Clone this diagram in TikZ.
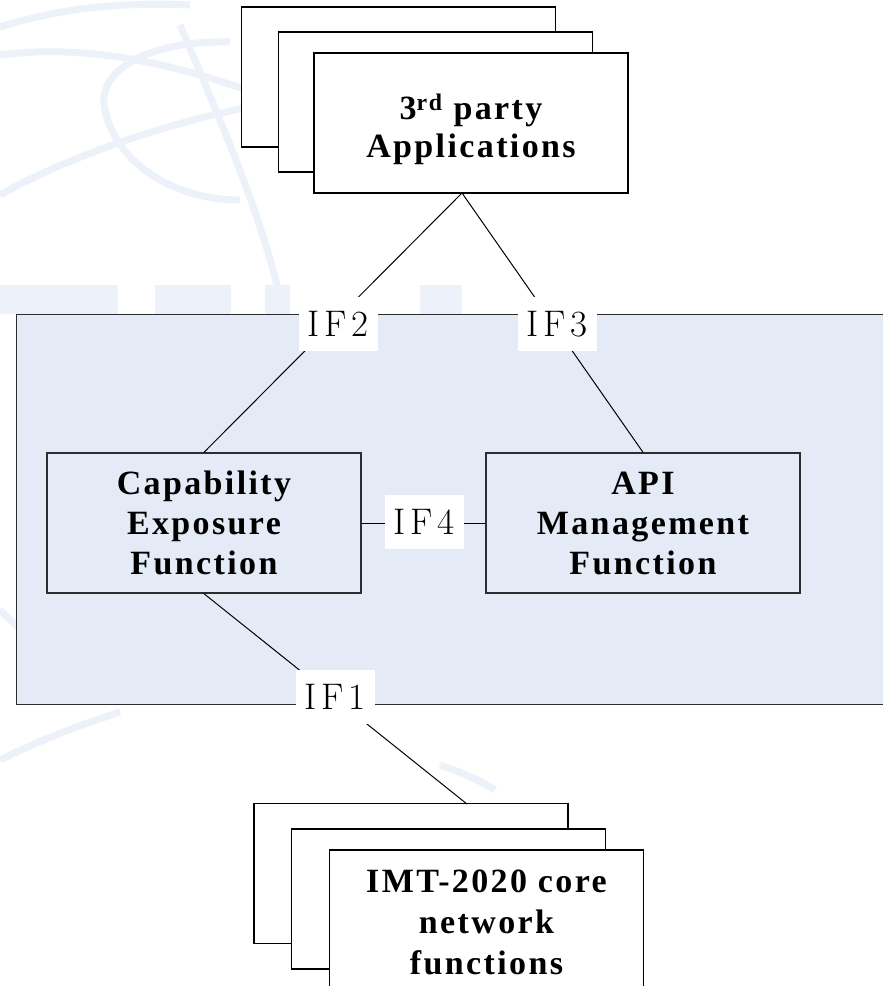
\documentclass[tikz,border=0pt]{standalone}
\usepackage{fontspec}
\usepackage{graphicx}
\newfontfamily\bxfont{Liberation Serif}[LetterSpace=7]
\newfontfamily\iffont{Latin Modern Roman}[LetterSpace=12]
\definecolor{panel}{RGB}{229,235,246}
\definecolor{edge}{RGB}{45,45,45}
\definecolor{wm}{RGB}{237,241,249}
\begin{document}
\begin{tikzpicture}[x=1pt,y=-1pt,
  stackbox/.style={draw=black, fill=white, line width=1.2pt, minimum width=314pt, minimum height=140pt, inner sep=0pt},
  boxtext/.style={align=center, inner sep=0pt, font=\bxfont\bfseries\fontsize{34}{38}\selectfont},
  funcbox/.style={draw=edge, line width=1.4pt, minimum width=314pt, minimum height=140pt, inner sep=0pt, align=center, font=\bxfont\bfseries\fontsize{34}{40}\selectfont},
  iflabel/.style={fill=white, minimum width=79pt, minimum height=54pt, inner sep=0pt, font=\iffont\fontsize{37}{37}\selectfont},
  link/.style={draw=black, line width=1pt},
  wmark/.style={draw=wm, line width=7pt}]
\useasboundingbox (0,0) rectangle (883,986);
\clip (0,0) rectangle (883,986);
\fill[white] (0,0) rectangle (883,986);
% faint watermark
\draw[wmark] (0,27) .. controls (60,8) and (120,2) .. (190,5);
\draw[wmark] (0,55) .. controls (100,42) and (200,70) .. (300,110);
\draw[wmark] (0,195) .. controls (80,150) and (200,112) .. (300,98);
\draw[wmark] (180,25) .. controls (220,120) and (265,220) .. (285,320);
\draw[wmark] (230,42) .. controls (150,40) and (95,70) .. (105,110) .. controls (115,160) and (170,200) .. (240,200);
\draw[wmark] (0,610) .. controls (40,650) and (90,680) .. (140,700);
\draw[wmark] (0,760) .. controls (40,740) and (80,725) .. (120,712);
\draw[wmark] (440,765) .. controls (460,772) and (480,780) .. (495,790);
\fill[wm] (0,285) rectangle (118,314);
\fill[wm] (155,285) rectangle (231,314);
\fill[wm] (265,285) rectangle (290,314);
\fill[wm] (420,285) rectangle (462,314);
% container
\node[draw=edge, fill=panel, line width=1.4pt, minimum width=880pt, minimum height=390pt, inner sep=0pt, anchor=north west] (dom) at (16,314) {};
% top stack
\node[stackbox] (appc) at (398.5,77) {};
\node[stackbox] (appb) at (435.5,102) {};
\node[stackbox] (app) at (471,123) {};
\node[boxtext] (apptext) at (471,129) {3\textsuperscript{rd} party\\Applications};
% functions
\node[funcbox] (cef) at (204,523) {Capability\\Exposure\\Function};
\node[funcbox] (api) at (643,523) {API\\Management\\Function};
% bottom stack
\node[stackbox] (corec) at (411,873.5) {};
\node[stackbox] (coreb) at (448.5,899) {};
\node[stackbox] (core) at (486.5,920) {};
\node[boxtext, font=\bxfont\bfseries\fontsize{34}{41}\selectfont] (coretext) at (486.5,922) {IMT-2020 core\\network\\functions};
% connector ends
\coordinate (apj) at (462,193);
\coordinate (corej) at (467,804);
% connectors
\draw[link] (apj) -- (cef.north);
\draw[link] (apj) -- (api.north);
\draw[link] (cef.east) -- (api.west);
\draw[link] (cef.south) -- (corej);
% interface labels
\node[iflabel] (if2) at (338,324) {IF2};
\node[iflabel] (if3) at (557,324) {IF3};
\node[iflabel] (if4) at (424,522) {IF4};
\node[iflabel] (if1) at (335,697) {IF1};
\end{tikzpicture}
\end{document}
